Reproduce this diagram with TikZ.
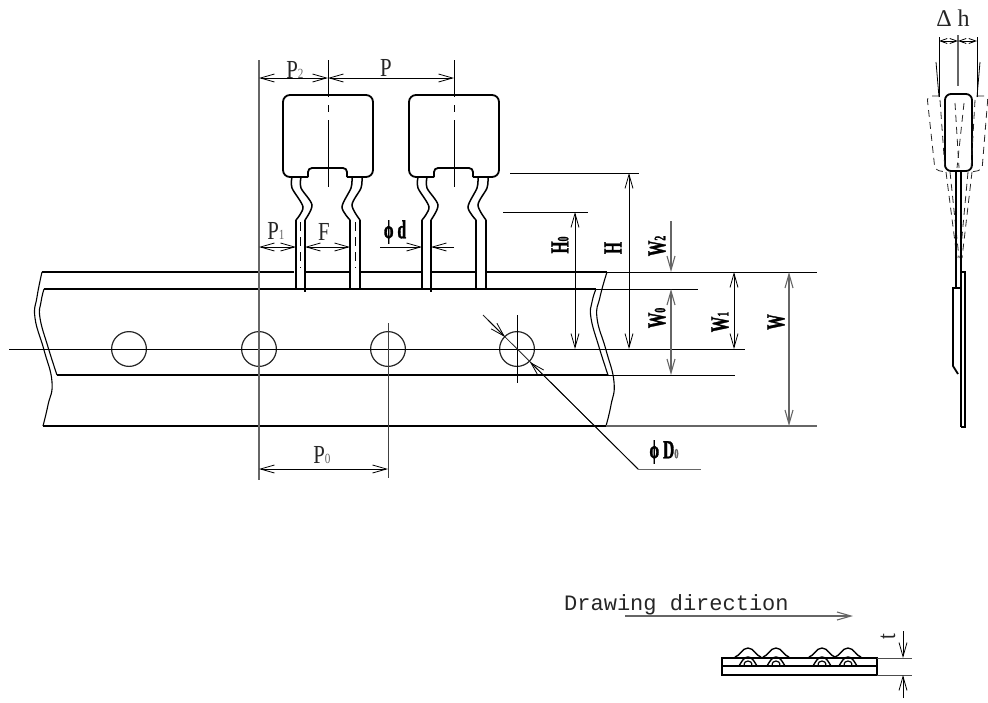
\documentclass[tikz,border=0pt]{standalone}
\usepackage{fontspec}
\usetikzlibrary{arrows.meta}
\setmainfont{Liberation Serif}
\newfontfamily\monofont{Liberation Mono}
\newfontfamily\lightfont[FakeStretch=0.8]{Liberation Serif}
\newfontfamily\heavyfont[FakeStretch=0.6,FakeBold=1.2]{Liberation Serif Bold}
\newcommand{\lightsub}[1]{{\fontsize{14}{14}\selectfont\color{black!60}#1}}
\newcommand{\heavysub}[1]{{\fontsize{16}{16}\selectfont #1}}
\tikzset{
 tapeline/.style={line width=1.9pt,black},
 bodyline/.style={line width=1.8pt,black},
 wavyline/.style={line width=1.1pt,black},
 thinline/.style={line width=0.8pt,black},
 grayline/.style={line width=1.1pt,black!60},
 sweepline/.style={line width=0.8pt,black!85,dash pattern=on 7pt off 5pt},
 dimlabel/.style={inner sep=0pt,font=\lightfont\fontsize{26}{26}\selectfont,black!85},
 heavylabel/.style={inner sep=0pt,font=\heavyfont\fontsize{26}{26}\selectfont,black},
 tinytip/.style={arrows={Straight Barb[length=7pt,width=5pt]-Straight Barb[length=7pt,width=5pt]}}
}
\begin{document}
\begin{tikzpicture}[x=1pt,y=-1pt,>={Straight Barb[length=14pt,width=8pt]}]
 \useasboundingbox (0,0) rectangle (988,702);
 \draw[tapeline](42,272)--(294,272);
 \draw[tapeline](306,272)--(349,272);
 \draw[tapeline](361,272)--(421,272);
 \draw[tapeline](432,272)--(475,272);
 \draw[tapeline](486,272)--(607,272);
 \draw[tapeline](44,289)--(596,289);
 \draw[tapeline](57,375)--(608,375);
 \draw[tapeline](43,426)--(606,426);
 \draw[wavyline] plot[smooth,tension=0.8] coordinates {(42,272)(37,297)(35,318)(44,350)(52,382)(48,405)(43,426)};
 \draw[wavyline] plot[smooth,tension=0.8] coordinates {(44,289)(41,302)(40,318)(48,347)(57,375)};
 \draw[wavyline] plot[smooth,tension=0.8] coordinates {(607,272)(600,297)(597,318)(606,350)(614,382)(611,405)(606,426)};
 \draw[wavyline] plot[smooth,tension=0.8] coordinates {(596,289)(592,302)(591,318)(599,347)(608,375)};
 \foreach \holex in {129,259,388,517}
  \draw[line width=1.2pt,black!85](\holex,349) circle (17.4);
 \draw[thinline](9,349)--(745,349);
 \draw[grayline](259,60)--(259,480);
 \draw[thinline,black!75](388,323)--(388,478);
 \draw[thinline](517,315)--(517,383);
 \foreach \compx in {0,126}{
 \begin{scope}[xshift=\compx pt]
  \draw[bodyline,rounded corners=7pt](308,177)--(283,177)--(283,95)--(373,95)--(373,177)--(347,177);
  \draw[bodyline,rounded corners=4pt](308,177)--(308,168)--(347,168)--(347,177);
  \draw[bodyline,line width=1.5pt] plot[smooth] coordinates {(292,177)(292,188)(303,207)(296,220)};
  \draw[bodyline,line width=1.5pt] plot[smooth] coordinates {(301,177)(301,188)(312,205)(305,220)};
  \draw[bodyline,line width=1.5pt] plot[smooth] coordinates {(352,177)(351,188)(342,207)(350,220)};
  \draw[bodyline,line width=1.5pt] plot[smooth] coordinates {(362,177)(361,188)(352,205)(360,220)};
  \draw[bodyline](296,220)--(296,289);
  \draw[bodyline](305,220)--(305,292);
  \draw[bodyline](350,220)--(350,289);
  \draw[bodyline](360,220)--(360,289);
  \draw[thinline](328,60)--(328,97);
  \draw[thinline](328,105)--(328,112);
  \draw[thinline](328,120)--(328,187);
 \end{scope}}
 \draw[thinline,dash pattern=on 9pt off 6pt](300,222)--(300,268);
 \draw[thinline,dash pattern=on 9pt off 6pt](355,222)--(355,268);
 \draw[thinline](510,173)--(639,173);
 \draw[thinline](503,212)--(588,212);
 \draw[thinline](607,272)--(817,272);
 \draw[thinline](596,289)--(698,289);
 \draw[thinline](608,375)--(735,375);
 \draw[grayline](606,426)--(817,426);
 \draw[thinline,<->](259,78)--(328,78);
 \draw[thinline,<->](328,78)--(454,78);
 \draw[thinline,<->](259,247)--(296,247);
 \draw[thinline,<->](305,247)--(350,247);
 \draw[thinline,->](380,247)--(422,247);
 \draw[thinline,->](454,247)--(431,247);
 \draw[thinline,<->](259,469)--(388,469);
 \draw[thinline,<->](575,212)--(575,349);
 \draw[thinline,<->](629,173)--(629,349);
 \draw[grayline,->](671,221)--(671,272);
 \draw[grayline,<->](671,289)--(671,375);
 \draw[thinline,<->](734,272)--(734,349);
 \draw[grayline,<->](789,272)--(789,426);
 \draw[thinline,black!85](638,469)--(483,315);
 \draw[thinline,->](488,320)--(505,337);
 \draw[thinline,->](638,469)--(530,362);
 \draw[grayline,line width=0.9pt](638,469)--(701,469);
 \node[dimlabel] (ptwolabel) at (295,70) {P\lightsub{2}};
 \node[dimlabel] (plabel) at (386,68) {P};
 \node[dimlabel] (ponelabel) at (276,231) {P\lightsub{1}};
 \node[dimlabel] (flabel) at (324,232) {F};
 \node[heavylabel] (dlabel) at (395,232) {ϕ d};
 \node[dimlabel] (pzerolabel) at (322,455) {P\lightsub{0}};
 \node[heavylabel] (dzerolabel) at (664,452) {ϕ D\lightsub{0}};
 \node[heavylabel,rotate=90] (hzerolabel) at (560,245) {H\heavysub{0}};
 \node[heavylabel,rotate=90] (hlabel) at (613,248) {H};
 \node[heavylabel,rotate=90] (wtwolabel) at (657,246) {W\heavysub{2}};
 \node[heavylabel,rotate=90] (wzerolabel) at (657,318) {W\heavysub{0}};
 \node[heavylabel,rotate=90] (wonelabel) at (720,322) {W\heavysub{1}};
 \node[heavylabel,rotate=90] (wlabel) at (776,322) {W};
 \node[inner sep=0pt,font=\fontsize{24}{24}\selectfont,black!85] (deltalabel) at (953,18) {Δ h};
 \draw[thinline](939,37)--(939,97);
 \draw[thinline](977,37)--(977,97);
 \draw[grayline](958,35)--(958,86);
 \draw[thinline,tinytip](939,41)--(958,41);
 \draw[thinline,tinytip](958,41)--(977,41);
 \draw[bodyline,rounded corners=6pt](945,171)--(945,94)--(972,94)--(972,171)--cycle;
 \draw[thinline](936,62)--(939,97);
 \draw[thinline](980,62)--(977,97);
 \draw[sweepline,rounded corners=4pt](939,96)--(927,96)--(935,170)--(946,172);
 \draw[sweepline,rounded corners=4pt](977,96)--(988,96)--(982,170)--(971,172);
 \draw[sweepline](940,100)--(945,170);
 \draw[sweepline](975,100)--(971,170);
 \draw[sweepline](955,103)--(959,168);
 \draw[sweepline](964,103)--(957,168);
 \draw[sweepline](946,172)--(957,258);
 \draw[sweepline](950,172)--(959,258);
 \draw[sweepline](972,172)--(962,258);
 \draw[sweepline](968,172)--(960,258);
 \draw[bodyline](956,171)--(956,288);
 \draw[bodyline](961,171)--(961,427);
 \draw[bodyline](961,272)--(965,272)--(965,427)--(961,427);
 \draw[bodyline](961,288)--(953,288)--(953,366)--(958,374);
 \node[inner sep=0pt,font=\monofont\fontsize{22}{22}\selectfont,anchor=base west,black!85] (directionlabel) at (564,610) {Drawing direction};
 \draw[grayline,->](625,616)--(853,616);
 \foreach \bumpx in {748,776,822,848}{
 \begin{scope}[xshift=\bumpx pt]
  \draw[bodyline,line width=1.4pt](-13,657).. controls (-8,656) and (-6,648) .. (0,648).. controls (6,648) and (8,656) .. (13,657);
  \draw[bodyline,line width=1.4pt](-9,666).. controls (-6,661) and (-4,657) .. (0,657).. controls (4,657) and (6,661) .. (9,666);
  \draw[bodyline,line width=1.2pt](-4,666).. controls (-4,662) and (-2,661) .. (0,661).. controls (2,661) and (4,662) .. (4,666);
 \end{scope}}
 \draw[bodyline](722,658)rectangle(877,675);
 \draw[bodyline,line width=1.5pt](722,666)--(877,666);
 \draw[thinline,black!70](877,658)--(912,658);
 \draw[thinline,black!70](877,675)--(912,675);
 \draw[thinline,->](903,631)--(903,658);
 \draw[thinline,->](903,698)--(903,675);
 \node[dimlabel,rotate=90] (tlabel) at (888,637) {t};
\end{tikzpicture}
\end{document}
